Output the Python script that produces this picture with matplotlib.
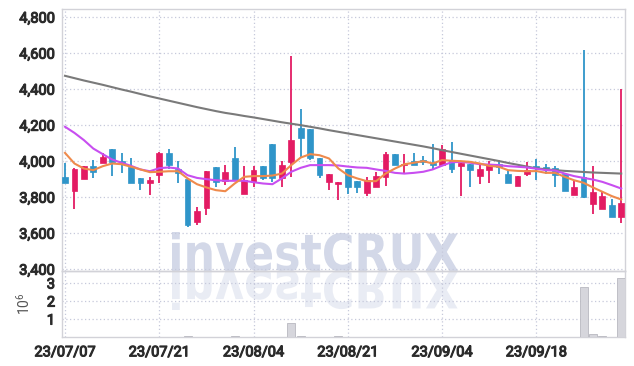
import matplotlib
matplotlib.use('Agg')
import matplotlib.pyplot as plt
import matplotlib.patheffects as pe
import numpy as np
import pandas as pd
from matplotlib.textpath import TextPath
from matplotlib.patches import PathPatch
from matplotlib.font_manager import FontProperties
from matplotlib.transforms import Affine2D

plt.rcParams['font.family'] = ['Roboto', 'DejaVu Sans']
plt.rcParams['mathtext.default'] = 'regular'

# trading days (KRX holidays removed)
holidays = ['2023-08-15', '2023-09-28', '2023-09-29', '2023-10-02', '2023-10-03']
dates = [d for d in pd.bdate_range('2023-07-07', '2023-10-05')
         if d.strftime('%Y-%m-%d') not in holidays]

opens = [3913, 3835, 3902, 3972, 3991, 4065, 4002, 3965, 3904, 3876,
         3922, 4048, 3954, 3900, 3663, 3741, 3965, 3891, 4015, 3815,
         3882, 3972, 4094, 3909, 3996, 4182, 4178, 4020, 3885, 3874,
         3956, 3891, 3824, 3857, 3913, 4039, 3976, 4000, 4006, 3987,
         3978, 4006, 3974, 3983, 3920, 3952, 3983, 3931, 3861, 3931,
         3972, 3967, 3961, 3928, 3811, 3911, 3763, 3737, 3754, 3689]
highs = [3989, 3960, 3975, 4004, 4048, 4065, 4048, 4015, 3904, 3913,
         4050, 4070, 4002, 3900, 3743, 3948, 3965, 3978, 4076, 3972,
         3974, 3972, 4094, 4000, 4583, 4287, 4178, 4020, 3928, 3882,
         3956, 3891, 3913, 3941, 4052, 4039, 4039, 4043, 4028, 4094,
         4089, 4104, 3990, 3983, 3978, 4002, 4006, 3945, 3917, 3993,
         4011, 3983, 3972, 3928, 3893, 4617, 3974, 3835, 3789, 4398]
lows = [3880, 3733, 3900, 3904, 3987, 3917, 3935, 3880, 3839, 3811,
        3876, 3954, 3880, 3635, 3644, 3700, 3854, 3865, 3894, 3815,
        3857, 3898, 3885, 3857, 3913, 4015, 4009, 3904, 3839, 3783,
        3820, 3825, 3806, 3857, 3861, 3978, 3928, 3981, 3981, 3950,
        3978, 3937, 3807, 3854, 3872, 3876, 3931, 3880, 3861, 3917,
        3894, 3926, 3856, 3835, 3811, 3793, 3709, 3737, 3689, 3654]
closes = [3880, 3956, 3972, 3939, 4021, 3998, 3987, 3880, 3876, 3898,
          4048, 3978, 3932, 3644, 3722, 3944, 3882, 3939, 3894, 3894,
          3950, 3907, 3904, 3978, 4117, 4130, 4020, 3922, 3928, 3882,
          3857, 3857, 3894, 3917, 4039, 3981, 3983, 3981, 3993, 3976,
          4065, 3957, 3987, 3950, 3954, 3976, 3969, 3880, 3917, 3950,
          3961, 3954, 3924, 3835, 3856, 3802, 3831, 3809, 3689, 3770]
volumes = [0.01, 0.01, 0.01, 0.01, 0.01, 0.01, 0.01, 0.01, 0.01, 0.01,
           0.01, 0.01, 0.01, 0.07, 0.01, 0.01, 0.01, 0.01, 0.06, 0.01,
           0.01, 0.01, 0.01, 0.01, 0.78, 0.05, 0.01, 0.01, 0.01, 0.06,
           0.01, 0.01, 0.01, 0.01, 0.01, 0.01, 0.01, 0.01, 0.01, 0.01,
           0.01, 0.01, 0.01, 0.01, 0.01, 0.01, 0.01, 0.01, 0.01, 0.01,
           0.01, 0.01, 0.01, 0.01, 0.01, 2.78, 0.18, 0.07, 0.01, 3.28]

ma_short = [4046, 3987, 3959, 3950, 3972, 3987, 3983, 3969, 3954, 3939,
            3941, 3944, 3944, 3904, 3872, 3854, 3839, 3833, 3876, 3913,
            3917, 3917, 3920, 3931, 3978, 4020, 4039, 4033, 4015, 3959,
            3922, 3904, 3889, 3889, 3931, 3959, 3983, 3991, 4000, 3987,
            4006, 4002, 4000, 3996, 3987, 3974, 3969, 3950, 3946, 3944,
            3945, 3935, 3935, 3913, 3894, 3880, 3854, 3830, 3806, 3787]
ma_mid = [4191, 4157, 4117, 4070, 4039, 4009, 3991, 3974, 3954, 3944,
          3961, 3965, 3959, 3922, 3907, 3900, 3894, 3891, 3891, 3891,
          3883, 3876, 3872, 3904, 3941, 3963, 3978, 3978, 3978, 3976,
          3970, 3965, 3963, 3954, 3946, 3935, 3931, 3935, 3941, 3954,
          3975, 3994, 3996, 3991, 3983, 3981, 3978, 3972, 3969, 3965,
          3958, 3950, 3948, 3931, 3917, 3907, 3898, 3885, 3867, 3848]
ma_long = [4474, 4461, 4448, 4436, 4424, 4411, 4398, 4386, 4373, 4360,
           4348, 4336, 4324, 4312, 4300, 4289, 4278, 4268, 4260, 4251,
           4243, 4234, 4225, 4216, 4208, 4200, 4191, 4182, 4172, 4163,
           4154, 4145, 4136, 4127, 4118, 4109, 4100, 4091, 4082, 4072,
           4061, 4051, 4041, 4031, 4021, 4011, 4001, 3990, 3980, 3970,
           3960, 3955, 3950, 3946, 3943, 3940, 3937, 3935, 3933, 3931]

UP = '#e31b63'
DOWN = '#2f95c9'
GRID = '#c6c9db'
SPINE = '#d2d2d8'
TXT = '#2b2b2b'
heavy = [pe.withStroke(linewidth=0.8, foreground=TXT)]

W, H = 634, 366
fig = plt.figure(figsize=(W / 100, H / 100), dpi=100)
ax = fig.add_axes([62 / W, 1 - 271 / H, 563 / W, 262 / H])
axv = fig.add_axes([62 / W, 1 - 337 / H, 563 / W, 66 / H], sharex=ax)
for a in (ax, axv):
    a.set_facecolor('none')
    for s in a.spines.values():
        s.set_color(SPINE)
        s.set_linewidth(1.0)
    a.grid(True, linestyle=(0, (1, 2)), color=GRID, linewidth=0.9)
    a.set_axisbelow(True)
    a.tick_params(length=0, labelsize=10.5, labelcolor=TXT, pad=5)

x = np.arange(len(opens))
o = np.array(opens)
c = np.array(closes)
colors = [UP if cc >= oo else DOWN for oo, cc in zip(o, c)]
ax.vlines(x, lows, highs, colors=colors, linewidth=1.3, zorder=3)
ax.bar(x, np.maximum(np.abs(c - o), 6), bottom=np.minimum(o, c), width=0.62,
       color=colors, edgecolor=colors, linewidth=0.5, zorder=4)

ax.plot(x, ma_long, color='#7a7a7a', linewidth=1.5, zorder=5)
ax.plot(x, ma_mid, color='#c84ef0', linewidth=1.5, zorder=5)
ax.plot(x, ma_short, color='#ef8a4c', linewidth=1.5, zorder=5)

ax.set_xlim(-0.32, 59.4)
ax.set_ylim(3390, 4845)
ax.set_yticks([3400, 3600, 3800, 4000, 4200, 4400, 4600, 4800])
ax.set_yticklabels(['{:,}'.format(v) for v in ax.get_yticks().astype(int)])
ax.tick_params(labelbottom=False)

axv.bar(x, volumes, width=0.85, color='#d6d6dc', edgecolor='#b8b8c0',
        linewidth=0.6, zorder=3)
axv.set_ylim(0, 3.67)
axv.set_yticks([1, 2, 3])
axv.set_yticklabels(['1', '2', '3'])
axv.set_ylabel('$10^6$', fontsize=10, color='#555555', labelpad=10)
ticks = list(range(0, len(dates), 10))
axv.set_xticks(ticks)
axv.set_xticklabels([dates[i].strftime('%y/%m/%d') for i in ticks])
axv.tick_params(axis='x', pad=6)

for lab in ax.get_yticklabels() + axv.get_yticklabels() + axv.get_xticklabels():
    lab.set_path_effects(heavy)

# watermark with reflection
fp = FontProperties(family='DejaVu Sans', weight='bold')
path = TextPath((0, 0), 'investCRUX', size=100, prop=fp)
ext = path.get_extents()
sx = (458 - 172) / ext.width
sy = (H - 232 - (H - 271)) / ext.ymax
base = H - 271
t1 = Affine2D().translate(-ext.xmin, 0).scale(sx, sy).translate(172, base)
t2 = Affine2D().translate(-ext.xmin, 0).scale(sx, -sy).translate(172, base)
fig.add_artist(PathPatch(path, transform=t1, facecolor='#d3d8e8',
                         edgecolor='none', zorder=-1))
fig.add_artist(PathPatch(path, transform=t2, facecolor='#e9ecf4',
                         edgecolor='none', zorder=-1))

fig.savefig('out.png', dpi=100)
